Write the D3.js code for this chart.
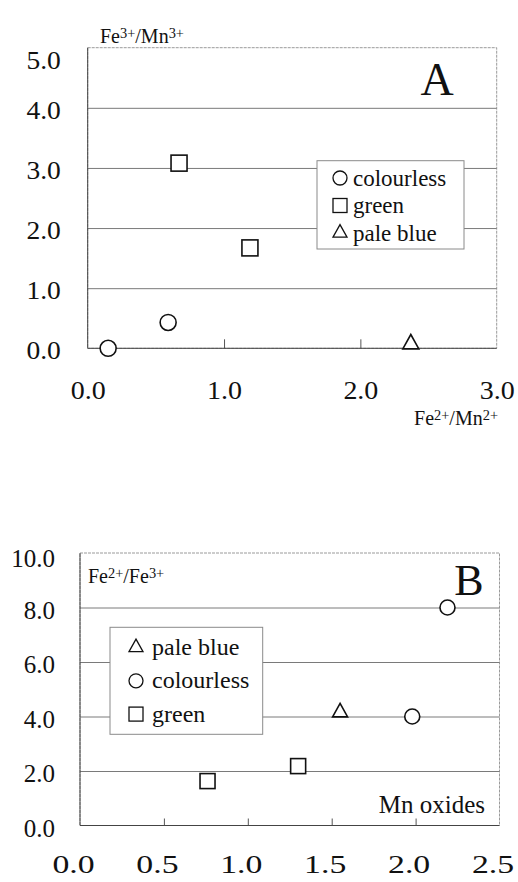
<!DOCTYPE html>
<html><head><meta charset="utf-8">
<script src="https://cdn.jsdelivr.net/npm/d3@7"></script>
<style>
html,body{margin:0;padding:0;background:#fff;}
svg{display:block;}
</style></head><body>
<svg id="chart" width="518" height="882"></svg>
<script>
// Panel A: Fe3+/Mn3+ against Fe2+/Mn2+
const aXTicks = [0, 1, 2, 3];
const aYTicks = [0, 1, 2, 3, 4, 5];
const aColourless = [[0.15, 0.00], [0.59, 0.43]];
const aGreen = [[0.67, 3.08], [1.19, 1.67]];
const aPaleBlue = [[2.37, 0.07]];
const aLegend = ["colourless", "green", "pale blue"];

// Panel B: Fe2+/Fe3+ in Mn oxides
const bXTicks = [0, 0.5, 1, 1.5, 2, 2.5];
const bYTicks = [0, 2, 4, 6, 8, 10];
const bPaleBlue = [[1.55, 4.15]];
const bColourless = [[2.19, 8.00], [1.98, 4.00]];
const bGreen = [[0.76, 1.63], [1.30, 2.18]];
const bLegend = ["pale blue", "colourless", "green"];

const SERIF = "'Liberation Serif', 'Times New Roman', Times, serif";
const shapeOf = {"colourless": "circle", "green": "square", "pale blue": "triangle"};
const svg = d3.select("#chart");
const fmt = d3.format(".1f");

function serif(sel, size) {
  return sel.style("font-family", SERIF).style("font-size", size + "px")
    .style("font-weight", "normal").attr("fill", "#111");
}

function marker(g, type, cx, cy, s) {
  if (type === "circle") {
    g.append("circle").attr("cx", cx).attr("cy", cy).attr("r", s / 2);
  } else if (type === "square") {
    g.append("rect").attr("x", cx - s / 2).attr("y", cy - s / 2).attr("width", s).attr("height", s);
  } else {
    const h = s * 0.9;
    g.append("path").attr("d",
      `M${cx},${cy - 2 * h / 3}L${cx + s / 2},${cy + h / 3}L${cx - s / 2},${cy + h / 3}Z`);
  }
}

// text with superscript charges, e.g. Fe3+/Mn3+
function supText(g, x, y, parts, size, anchor) {
  const t = serif(g.append("text").attr("x", x).attr("y", y), size)
    .attr("text-anchor", anchor || "start");
  parts.forEach(([txt, sup]) => {
    const s = t.append("tspan").text(txt);
    if (sup) s.style("font-size", (size * 0.72) + "px").attr("baseline-shift", "38%");
  });
  return t;
}

function panel(cfg) {
  const g = svg.append("g");
  const x = d3.scaleLinear().domain(cfg.xDomain).range([cfg.left, cfg.right]);
  const y = d3.scaleLinear().domain(cfg.yDomain).range([cfg.bottom, cfg.top]);
  const yMax = cfg.yDomain[1], xMax = cfg.xDomain[1];

  // plot area border
  g.append("rect").attr("x", cfg.left).attr("y", cfg.top)
    .attr("width", cfg.right - cfg.left).attr("height", cfg.bottom - cfg.top)
    .attr("fill", "none").attr("stroke", "#9a9a9a").attr("stroke-width", 1)
    .attr("stroke-dasharray", "3,1");

  // horizontal gridlines
  const grid = g.append("g").attr("transform", `translate(${cfg.left},0)`)
    .call(d3.axisLeft(y).tickValues(cfg.yTicks.filter(v => v > 0 && v < yMax))
      .tickSize(-(cfg.right - cfg.left)).tickFormat(""));
  grid.select(".domain").remove();
  grid.selectAll("text").remove();
  grid.selectAll("line").attr("stroke", "#7a7a7a").attr("stroke-width", 1);

  // inner tick marks on the x axis
  const tk = g.append("g").attr("transform", `translate(0,${cfg.bottom})`)
    .call(d3.axisBottom(x).tickValues(cfg.xTicks.filter(v => v > 0 && v < xMax))
      .tickSize(-cfg.tickLen).tickFormat(""));
  tk.select(".domain").remove();
  tk.selectAll("text").remove();
  tk.selectAll("line").attr("stroke", "#555");

  // axis lines
  g.append("line").attr("x1", cfg.left).attr("x2", cfg.left).attr("y1", cfg.top).attr("y2", cfg.bottom)
    .attr("stroke", "#444");
  g.append("line").attr("x1", cfg.left).attr("x2", cfg.right).attr("y1", cfg.bottom).attr("y2", cfg.bottom)
    .attr("stroke", "#444");

  // x tick labels
  const xa = g.append("g").attr("transform", `translate(0,${cfg.bottom})`)
    .call(d3.axisBottom(x).tickValues(cfg.xTicks).tickSize(0).tickPadding(cfg.xPad).tickFormat(fmt));
  xa.select(".domain").remove();
  serif(xa.selectAll("text"), 25)
    .attr("transform", `translate(${cfg.xShift},0) scale(${cfg.xStretch},1)`);

  // y tick labels
  const ya = g.append("g").attr("transform", `translate(${cfg.left},0)`)
    .call(d3.axisLeft(y).tickValues(cfg.yTicks).tickSize(0).tickPadding(cfg.yPad).tickFormat(fmt));
  ya.select(".domain").remove();
  serif(ya.selectAll("text"), 25).attr("dy", "0.42em")
    .attr("transform", `scale(${cfg.yStretch},1)`);
  ya.selectAll(".tick").filter(d => d === yMax)
    .attr("transform", `translate(0,${y(yMax) + cfg.topLabelDrop})`);

  // data markers
  const mk = g.append("g").attr("fill", "#fff").attr("stroke", "#111").attr("stroke-width", 1.6);
  cfg.series.forEach(s => {
    s.points.forEach(([vx, vy]) => marker(mk, shapeOf[s.name], x(vx), y(vy), cfg.markerSize));
  });

  // legend
  const L = cfg.legend;
  const lg = g.append("g");
  lg.append("rect").attr("x", L.x).attr("y", L.y).attr("width", L.w).attr("height", L.h)
    .attr("fill", "#fff").attr("stroke", "#8a8a8a");
  const lm = lg.append("g").attr("fill", "#fff").attr("stroke", "#111").attr("stroke-width", 1.3);
  L.names.forEach((n, i) => {
    const by = L.firstBaseline + i * L.step;
    marker(lm, shapeOf[n], L.symX, by - 7.5, L.symSize);
    serif(lg.append("text").attr("x", L.textX).attr("y", by), L.fontSize).text(n);
  });
  return {g, x, y};
}

// ---- Panel A ----
const A = panel({
  xDomain: [0, 3], yDomain: [0, 5],
  left: 87.7, right: 496.7, top: 47.7, bottom: 348.3,
  xTicks: aXTicks, yTicks: aYTicks, tickLen: 9,
  xPad: 33, xShift: 0, xStretch: 1.12, yPad: 24.5, yStretch: 1.1, topLabelDrop: 11,
  markerSize: 16,
  series: [
    {name: "colourless", points: aColourless},
    {name: "green", points: aGreen},
    {name: "pale blue", points: aPaleBlue}
  ],
  legend: {x: 317, y: 160.7, w: 147, h: 88.3, names: aLegend,
    firstBaseline: 185.5, step: 27.5, symX: 340, symSize: 14, textX: 353, fontSize: 23}
});
supText(A.g, 100, 43, [["Fe"], ["3+", 1], ["/Mn"], ["3+", 1]], 20);
supText(A.g, 498, 425, [["Fe"], ["2+", 1], ["/Mn"], ["2+", 1]], 20, "end");
serif(A.g.append("text").attr("x", 437).attr("y", 95).attr("text-anchor", "middle"), 46).text("A");

// ---- Panel B ----
const B = panel({
  xDomain: [0, 2.5], yDomain: [0, 10],
  left: 80, right: 499.5, top: 553, bottom: 825.5,
  xTicks: bXTicks, yTicks: bYTicks, tickLen: 7,
  xPad: 29.75, xShift: -7, xStretch: 1.35, yPad: 25, yStretch: 1, topLabelDrop: 3,
  markerSize: 15,
  series: [
    {name: "pale blue", points: bPaleBlue},
    {name: "colourless", points: bColourless},
    {name: "green", points: bGreen}
  ],
  legend: {x: 110, y: 627.3, w: 152.7, h: 107, names: bLegend,
    firstBaseline: 655, step: 33.3, symX: 136, symSize: 14, textX: 152, fontSize: 24}
});
supText(B.g, 88, 583, [["Fe"], ["2+", 1], ["/Fe"], ["3+", 1]], 20);
serif(B.g.append("text").attr("x", 469).attr("y", 595).attr("text-anchor", "middle"), 44).text("B");
serif(B.g.append("text").attr("x", 485).attr("y", 813).attr("text-anchor", "end"), 25).text("Mn oxides");
</script>
</body></html>
